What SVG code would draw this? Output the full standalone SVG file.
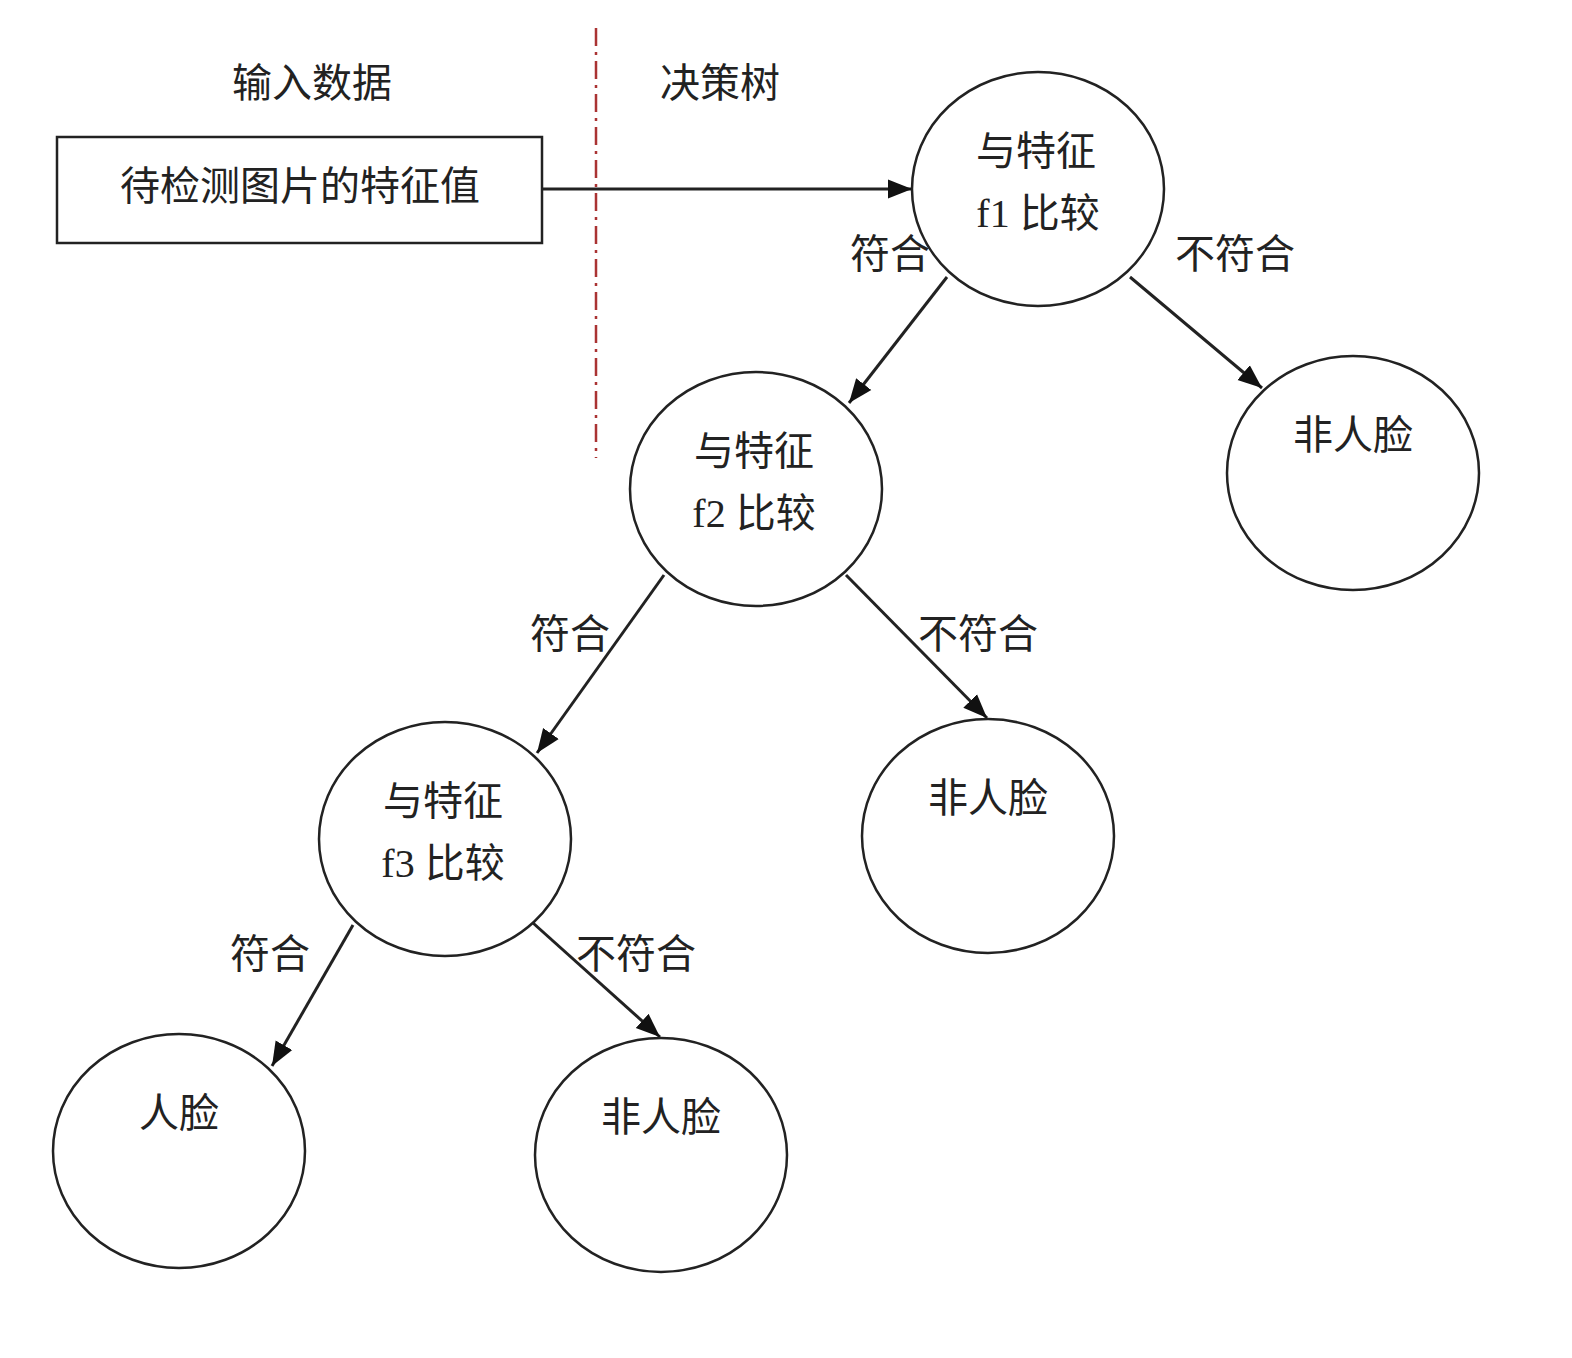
<svg xmlns="http://www.w3.org/2000/svg" width="1572" height="1358" viewBox="0 0 1572 1358">
<style>
text{font-family:"Liberation Serif","Noto Sans CJK SC",serif;font-size:40px;fill:#222;text-anchor:middle}
.n{fill:#fff;stroke:#222;stroke-width:2.5}
.c{stroke:#222;stroke-width:3;fill:none;marker-end:url(#ah)}
</style>
<defs><marker id="ah" viewBox="0 0 10 10" refX="10" refY="5" markerWidth="8" markerHeight="8" markerUnits="userSpaceOnUse" orient="auto"><path d="M0,0L10,5L0,10z" fill="#111" transform="scale(1)"/></marker>
<marker id="a2" viewBox="0 0 10 10" refX="10" refY="5" markerWidth="24" markerHeight="24" markerUnits="userSpaceOnUse" orient="auto"><path d="M0,1L10,5L0,9z" fill="#111"/></marker></defs>
<rect width="1572" height="1358" fill="#fff"/>
<text x="312" y="97">输入数据</text>
<text x="720" y="97">决策树</text>
<line x1="596" y1="28" x2="596" y2="458" stroke="#a33" stroke-width="2.5" stroke-dasharray="18,6,3,6"/>
<g id="input"><rect x="57" y="137" width="485" height="106" class="n"/><text x="300" y="200">待检测图片的特征值</text></g>
<g id="f1"><ellipse cx="1038" cy="189" rx="126" ry="117" class="n"/><text x="1036" y="165">与特征</text><text x="1038" y="227">f1 比较</text></g>
<g id="f2"><ellipse cx="756" cy="489" rx="126" ry="117" class="n"/><text x="754" y="465">与特征</text><text x="754" y="527">f2 比较</text></g>
<g id="f3"><ellipse cx="445" cy="839" rx="126" ry="117" class="n"/><text x="443" y="815">与特征</text><text x="443" y="877">f3 比较</text></g>
<g id="nf1"><ellipse cx="1353" cy="473" rx="126" ry="117" class="n"/><text x="1353" y="449">非人脸</text></g>
<g id="nf2"><ellipse cx="988" cy="836" rx="126" ry="117" class="n"/><text x="988" y="812">非人脸</text></g>
<g id="face"><ellipse cx="179" cy="1151" rx="126" ry="117" class="n"/><text x="179" y="1127">人脸</text></g>
<g id="nf3"><ellipse cx="661" cy="1155" rx="126" ry="117" class="n"/><text x="661" y="1131">非人脸</text></g>
<g id="connectors" stroke="#222" stroke-width="3" fill="none">
<line x1="542" y1="189" x2="912" y2="189" marker-end="url(#a2)"/>
<line x1="947" y1="277" x2="849" y2="403" marker-end="url(#a2)"/>
<line x1="1130" y1="277" x2="1262" y2="388" marker-end="url(#a2)"/>
<line x1="664" y1="575" x2="537" y2="753" marker-end="url(#a2)"/>
<line x1="846" y1="575" x2="987" y2="718" marker-end="url(#a2)"/>
<line x1="353" y1="925" x2="272" y2="1066" marker-end="url(#a2)"/>
<line x1="533" y1="923" x2="660" y2="1037" marker-end="url(#a2)"/>
</g>
<text x="890" y="268">符合</text><text x="1235" y="268">不符合</text>
<text x="570" y="648">符合</text><text x="978" y="648">不符合</text>
<text x="270" y="968">符合</text><text x="636" y="968">不符合</text>
</svg>
